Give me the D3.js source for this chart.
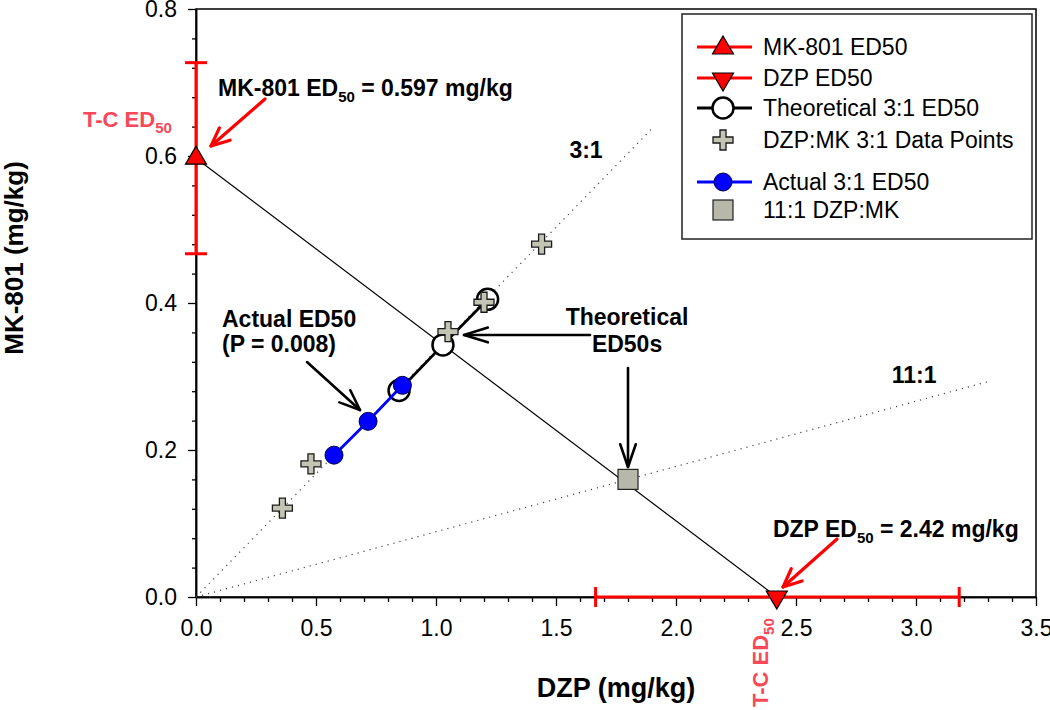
<!DOCTYPE html>
<html>
<head>
<meta charset="utf-8">
<script src="https://cdn.jsdelivr.net/npm/d3@7"></script>
<style>
  html, body { margin: 0; padding: 0; background: #fff; }
  svg { display: block; font-family: "Liberation Sans", Arial, sans-serif; }
</style>
</head>
<body>
<svg id="chart" width="1050" height="710"></svg>
<script>
// ---------------- DATA ----------------
const xTickValues = [0, 0.5, 1.0, 1.5, 2.0, 2.5, 3.0, 3.5];
const yTickValues = [0, 0.2, 0.4, 0.6, 0.8];

// single-drug ED50s (with 95% CI)
const mk801ED50 = { x: 0, y: 0.597, lo: 0.467, hi: 0.727 };
const dzpED50 = { x: 2.42, y: 0, lo: 1.665, hi: 3.18 };

// theoretical 3:1 ED50 (with CI ends)
const theoX = [0.846, 1.029, 1.215];
const theoY = [0.281, 0.343, 0.405];

// DZP:MK 3:1 data points
const dataX = [0.36, 0.479, 1.05, 1.20, 1.44];
const dataY = [0.121, 0.181, 0.361, 0.401, 0.480];

// actual 3:1 ED50 (with CI ends)
const actualX = [0.575, 0.717, 0.860];
const actualY = [0.193, 0.239, 0.288];

// 11:1 DZP:MK point
const ratio11X = [1.80];
const ratio11Y = [0.160];

// ray ends for the fixed-ratio lines
const ray3End = [1.908, 0.640];
const ray11End = [3.30, 0.293];

const legendLabels = ["MK-801 ED50", "DZP ED50", "Theoretical 3:1 ED50", "DZP:MK 3:1 Data Points", "Actual 3:1 ED50", "11:1 DZP:MK"];

// ---------------- SETUP ----------------
const svg = d3.select("#chart");
const x = d3.scaleLinear().domain([0, 3.5]).range([196, 1036]);
const y = d3.scaleLinear().domain([0, 0.8]).range([597, 9]);

const RED = "#ff0000";
const PINK = "#f9485a";
const FONT = "'Liberation Sans', Arial, sans-serif";

// frame
svg.append("rect")
  .attr("x", x(0)).attr("y", y(0.8))
  .attr("width", x(3.5) - x(0)).attr("height", y(0) - y(0.8))
  .attr("fill", "none").attr("stroke", "#000").attr("stroke-width", 1.5);

// axes
const xMinor = d3.range(0, 3.5001, 0.1).filter(v => Math.abs(v * 2 - Math.round(v * 2)) > 1e-6);
const yMinor = d3.range(0, 0.8001, 0.04).filter(v => Math.abs(v * 5 - Math.round(v * 5)) > 1e-6);

const gx = svg.append("g").attr("transform", `translate(0,${y(0)})`)
  .call(d3.axisBottom(x).tickValues(xTickValues).tickFormat(d3.format(".1f")).tickSize(9).tickSizeOuter(0).tickPadding(14));
const gxm = svg.append("g").attr("transform", `translate(0,${y(0)})`)
  .call(d3.axisBottom(x).tickValues(xMinor).tickFormat("").tickSize(5).tickSizeOuter(0));
const gy = svg.append("g").attr("transform", `translate(${x(0)},0)`)
  .call(d3.axisLeft(y).tickValues(yTickValues).tickFormat(d3.format(".1f")).tickSize(8).tickSizeOuter(0).tickPadding(11));
const gym = svg.append("g").attr("transform", `translate(${x(0)},0)`)
  .call(d3.axisLeft(y).tickValues(yMinor).tickFormat("").tickSize(4).tickSizeOuter(0));
[gx, gxm, gy, gym].forEach(g => {
  g.select(".domain").attr("stroke", "#000").attr("stroke-width", 1.5);
  g.selectAll(".tick line").attr("stroke", "#000").attr("stroke-width", 1.3);
  g.selectAll(".tick text").attr("font-family", FONT).attr("font-size", 23).attr("fill", "#000");
});

// axis titles
svg.append("text").attr("x", (x(0) + x(3.5)) / 2).attr("y", 697)
  .attr("text-anchor", "middle").attr("font-weight", "bold").attr("font-size", 27)
  .text("DZP (mg/kg)");
svg.append("text").attr("transform", `translate(14,${258}) rotate(-90)`)
  .attr("text-anchor", "middle").attr("dominant-baseline", "central")
  .attr("font-weight", "bold").attr("font-size", 26)
  .text("MK-801 (mg/kg)");

const line = d3.line().x(d => x(d[0])).y(d => y(d[1]));

// fixed ratio rays (dotted)
svg.append("path").attr("d", line([[0, 0], ray3End]))
  .attr("fill", "none").attr("stroke", "#444").attr("stroke-width", 1.2).attr("stroke-dasharray", "1.2,5");
svg.append("path").attr("d", line([[0, 0], ray11End]))
  .attr("fill", "none").attr("stroke", "#444").attr("stroke-width", 1.2).attr("stroke-dasharray", "1.2,5");

// isobole
svg.append("path").attr("d", line([[mk801ED50.x, mk801ED50.y], [dzpED50.x, dzpED50.y]]))
  .attr("fill", "none").attr("stroke", "#000").attr("stroke-width", 1.2);

// error bars
function vErr(d) {
  const g = svg.append("g").attr("stroke", RED).attr("stroke-width", 3);
  g.append("line").attr("x1", x(d.x)).attr("x2", x(d.x)).attr("y1", y(d.lo)).attr("y2", y(d.hi));
  [d.lo, d.hi].forEach(v => g.append("line").attr("x1", x(d.x) - 11).attr("x2", x(d.x) + 11).attr("y1", y(v)).attr("y2", y(v)));
}
function hErr(d) {
  const g = svg.append("g").attr("stroke", RED).attr("stroke-width", 3);
  g.append("line").attr("y1", y(d.y)).attr("y2", y(d.y)).attr("x1", x(d.lo)).attr("x2", x(d.hi));
  [d.lo, d.hi].forEach(v => g.append("line").attr("y1", y(d.y) - 10).attr("y2", y(d.y) + 10).attr("x1", x(v)).attr("x2", x(v)));
}
vErr(mk801ED50);
hErr(dzpED50);

// theoretical 3:1
const theo = theoX.map((v, i) => [v, theoY[i]]);
svg.append("path").attr("d", line(theo)).attr("fill", "none").attr("stroke", "#000").attr("stroke-width", 2.8);
svg.selectAll(".theo").data(theo).enter().append("circle")
  .attr("cx", d => x(d[0])).attr("cy", d => y(d[1])).attr("r", 10.5)
  .attr("fill", "#fff").attr("stroke", "#000").attr("stroke-width", 2.5);

// actual 3:1
const act = actualX.map((v, i) => [v, actualY[i]]);
svg.append("path").attr("d", line(act)).attr("fill", "none").attr("stroke", "#0000ff").attr("stroke-width", 2.8);
svg.selectAll(".act").data(act).enter().append("circle")
  .attr("cx", d => x(d[0])).attr("cy", d => y(d[1])).attr("r", 9)
  .attr("fill", "#0000ff").attr("stroke", "#000044").attr("stroke-width", 1);

// plus markers
const a = 10, w = 3;
const plusPath = `M${-w},${-a}L${w},${-a}L${w},${-w}L${a},${-w}L${a},${w}L${w},${w}L${w},${a}L${-w},${a}L${-w},${w}L${-a},${w}L${-a},${-w}L${-w},${-w}Z`;
const pts = dataX.map((v, i) => [v, dataY[i]]);
svg.selectAll(".plus").data(pts).enter().append("path")
  .attr("d", plusPath).attr("transform", d => `translate(${x(d[0])},${y(d[1])})`)
  .attr("fill", "#c4c4b4").attr("stroke", "#1a1a1a").attr("stroke-width", 1.3);

// 11:1 square
const sq = ratio11X.map((v, i) => [v, ratio11Y[i]]);
svg.selectAll(".sq").data(sq).enter().append("rect")
  .attr("x", d => x(d[0]) - 10).attr("y", d => y(d[1]) - 10).attr("width", 20).attr("height", 20)
  .attr("fill", "#b7b7aa").attr("stroke", "#222").attr("stroke-width", 1.2);

// triangles
const triUp = "M0,-12L10.5,6L-10.5,6Z";
const triDown = "M0,12L10.5,-6L-10.5,-6Z";
svg.append("path").attr("d", triUp).attr("transform", `translate(${x(mk801ED50.x)},${y(mk801ED50.y)})`)
  .attr("fill", RED).attr("stroke", "#000").attr("stroke-width", 1.2);
svg.append("path").attr("d", triDown).attr("transform", `translate(${x(dzpED50.x)},${y(dzpED50.y)})`)
  .attr("fill", RED).attr("stroke", "#000").attr("stroke-width", 1.2);

// ---------------- ANNOTATIONS ----------------
function arrow(p0, p1, color, width, head, ang) {
  const x0 = x(p0[0]), y0 = y(p0[1]), x1 = x(p1[0]), y1 = y(p1[1]);
  const t = Math.atan2(y1 - y0, x1 - x0);
  const g = svg.append("g").attr("stroke", color).attr("stroke-width", width).attr("fill", "none")
    .attr("stroke-linecap", "round").attr("stroke-linejoin", "round");
  g.append("line").attr("x1", x0).attr("y1", y0).attr("x2", x1).attr("y2", y1);
  const h1 = [x1 - head * Math.cos(t - ang), y1 - head * Math.sin(t - ang)];
  const h2 = [x1 - head * Math.cos(t + ang), y1 - head * Math.sin(t + ang)];
  g.append("path").attr("d", `M${h1[0]},${h1[1]}L${x1},${y1}L${h2[0]},${h2[1]}`);
}
arrow([0.2875, 0.6776], [0.0625, 0.6136], RED, 3.2, 20, 0.42);
arrow([2.671, 0.0789], [2.446, 0.0136], RED, 3.2, 20, 0.42);
arrow([0.4625, 0.3197], [0.6833, 0.2544], "#000", 2.6, 22, 0.38);
arrow([1.6417, 0.3565], [1.1167, 0.3565], "#000", 2.6, 25, 0.30);
arrow([1.80, 0.3116], [1.80, 0.1769], "#000", 2.6, 24, 0.33);

function subText(px, py, parts, opts) {
  const t = svg.append("text").attr("x", px).attr("y", py)
    .attr("font-weight", "bold").attr("font-size", opts.size || 23)
    .attr("fill", opts.fill || "#000").attr("text-anchor", opts.anchor || "start");
  if (opts.transform) t.attr("transform", opts.transform);
  parts.forEach(p => {
    if (p.sub) {
      t.append("tspan").attr("font-size", 15).attr("dy", 6).text(p.t);
    } else {
      t.append("tspan").attr("dy", p.after ? -6 : 0).text(p.t);
    }
  });
  return t;
}
subText(x(0.0917), y(0.6816), [{ t: "MK-801 ED" }, { t: "50", sub: true }, { t: " = 0.597 mg/kg", after: true }], {});
subText(x(2.404), y(0.0816), [{ t: "DZP ED" }, { t: "50", sub: true }, { t: " = 2.42 mg/kg", after: true }], {});
subText(83, 127, [{ t: "T-C ED" }, { t: "50", sub: true }], { fill: PINK, size: 22 });
subText(0, 0, [{ t: "T-C ED" }, { t: "50", sub: true }], { fill: PINK, size: 22, transform: `translate(768,707) rotate(-90)` });

function boldText(px, py, s, anchor) {
  svg.append("text").attr("x", px).attr("y", py).attr("font-weight", "bold").attr("font-size", 23)
    .attr("text-anchor", anchor).text(s);
}
boldText(x(0.1083), y(0.3673), "Actual ED50", "start");
boldText(x(0.1083), y(0.3333), "(P = 0.008)", "start");
boldText(x(1.796), y(0.370), "Theoretical", "middle");
boldText(x(1.796), y(0.3333), "ED50s", "middle");
boldText(x(1.625), y(0.5973), "3:1", "middle");
boldText(x(2.992), y(0.2912), "11:1", "middle");

// ---------------- LEGEND ----------------
const lg = svg.append("g");
lg.append("rect").attr("x", 682).attr("y", 14).attr("width", 350).attr("height", 225)
  .attr("fill", "#fff").attr("stroke", "#222").attr("stroke-width", 1.5);
const rowY = [47, 78, 108, 140, 182, 210];
const sx = 723;
function lgLine(yy, color) {
  lg.append("line").attr("x1", 697).attr("x2", 752).attr("y1", yy).attr("y2", yy)
    .attr("stroke", color).attr("stroke-width", 2.8);
}
lgLine(rowY[0], RED);
lg.append("path").attr("d", triUp).attr("transform", `translate(${sx},${rowY[0] + 1})`).attr("fill", RED).attr("stroke", "#000").attr("stroke-width", 1.2);
lgLine(rowY[1], RED);
lg.append("path").attr("d", triDown).attr("transform", `translate(${sx},${rowY[1] + 1})`).attr("fill", RED).attr("stroke", "#000").attr("stroke-width", 1.2);
lgLine(rowY[2], "#000");
lg.append("circle").attr("cx", sx).attr("cy", rowY[2]).attr("r", 10.5).attr("fill", "#fff").attr("stroke", "#000").attr("stroke-width", 2.5);
lg.append("path").attr("d", plusPath).attr("transform", `translate(${sx},${rowY[3]})`).attr("fill", "#c4c4b4").attr("stroke", "#1a1a1a").attr("stroke-width", 1.3);
lgLine(rowY[4], "#0000ff");
lg.append("circle").attr("cx", sx).attr("cy", rowY[4]).attr("r", 9).attr("fill", "#0000ff").attr("stroke", "#000044").attr("stroke-width", 1);
lg.append("rect").attr("x", sx - 10).attr("y", rowY[5] - 10).attr("width", 20).attr("height", 20).attr("fill", "#b7b7aa").attr("stroke", "#222").attr("stroke-width", 1.2);
legendLabels.forEach((s, i) => {
  lg.append("text").attr("x", 763).attr("y", rowY[i]).attr("dominant-baseline", "central")
    .attr("font-size", 23).attr("fill", "#000").text(s);
});
</script>
</body>
</html>
